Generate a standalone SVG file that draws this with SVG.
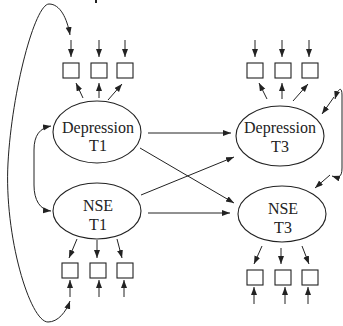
<svg xmlns="http://www.w3.org/2000/svg" width="343" height="326" viewBox="0 0 343 326">
<style>
.e{fill:#fff;stroke:#222;stroke-width:1.1}
.b{fill:#fff;stroke:#222;stroke-width:1.1}
.t{font-family:'Liberation Serif','DejaVu Serif',serif;font-size:16px;fill:#222;text-anchor:middle}
.c{fill:none;stroke:#222;stroke-width:1}
.a{marker-end:url(#ah)}
.d{marker-start:url(#ah);marker-end:url(#ah)}
</style>
<defs>
<marker id="ah" markerUnits="userSpaceOnUse" markerWidth="9" markerHeight="7" refX="8" refY="3" orient="auto-start-reverse">
<path d="M0,0 L8,3 L0,6 z" fill="#222"/>
</marker>
</defs>
<rect x="95" y="0" width="2" height="3" fill="#222"/>
<g id="connectors">
<line class="c a" x1="71" y1="40" x2="71" y2="57"/>
<line class="c a" x1="99" y1="40" x2="99" y2="57"/>
<line class="c a" x1="125" y1="40" x2="125" y2="57"/>
<line class="c a" x1="83" y1="98" x2="76" y2="83"/>
<line class="c a" x1="99" y1="98" x2="99" y2="83"/>
<line class="c a" x1="108" y1="100" x2="122" y2="84"/>
<line class="c a" x1="255" y1="40" x2="255" y2="57"/>
<line class="c a" x1="282" y1="40" x2="282" y2="57"/>
<line class="c a" x1="309" y1="40" x2="309" y2="57"/>
<line class="c a" x1="267" y1="99" x2="259" y2="83"/>
<line class="c a" x1="282" y1="99" x2="282" y2="83"/>
<line class="c a" x1="293" y1="101" x2="308" y2="84"/>
<line class="c a" x1="77" y1="239" x2="69" y2="258"/>
<line class="c a" x1="97" y1="240" x2="97" y2="258"/>
<line class="c a" x1="117" y1="239" x2="122" y2="258"/>
<line class="c a" x1="70" y1="297" x2="70" y2="280"/>
<line class="c a" x1="99" y1="297" x2="99" y2="280"/>
<line class="c a" x1="124" y1="297" x2="124" y2="280"/>
<line class="c a" x1="262" y1="246" x2="254" y2="264"/>
<line class="c a" x1="281" y1="248" x2="281" y2="264"/>
<line class="c a" x1="302" y1="246" x2="309" y2="264"/>
<line class="c a" x1="254" y1="304" x2="254" y2="287"/>
<line class="c a" x1="285" y1="304" x2="285" y2="287"/>
<line class="c a" x1="308" y1="304" x2="308" y2="287"/>
<line class="c a" x1="148" y1="133" x2="231" y2="133"/>
<line class="c a" x1="140" y1="148" x2="234" y2="203"/>
<line class="c a" x1="141" y1="195" x2="234" y2="157"/>
<line class="c a" x1="148" y1="213" x2="230" y2="213"/>
<path class="c d" d="M51,126 C40,128 34,135 34,150 L34,185 C34,200 40,210 51,211"/>
<path class="c d" d="M70,35 C67,18 60,4 49,4 C35,4 12,90 8,163 C4,236 30,322 48,322 C58,322 66,312 70,301"/>
<line class="c a" x1="334" y1="97" x2="322" y2="114"/>
<path class="c d" d="M335,99 C338,88 342,86 342,95 L342,168 C342,178 338,178 332,176"/>
<line class="c a" x1="330" y1="175" x2="315" y2="188"/>
</g>
<g id="dep-t1">
<rect class="b" x="63" y="63" width="16" height="15"/>
<rect class="b" x="91" y="63" width="16" height="15"/>
<rect class="b" x="117" y="63" width="16" height="15"/>
<ellipse class="e" cx="97" cy="132" rx="44" ry="31"/>
<text class="t" x="98" y="133">Depression</text>
<text class="t" x="98" y="151">T1</text>
</g>
<g id="dep-t3">
<rect class="b" x="247" y="63" width="16" height="15"/>
<rect class="b" x="275" y="63" width="16" height="15"/>
<rect class="b" x="302" y="63" width="16" height="15"/>
<ellipse class="e" cx="280" cy="136" rx="44" ry="30"/>
<text class="t" x="280" y="133">Depression</text>
<text class="t" x="280" y="152">T3</text>
</g>
<g id="nse-t1">
<rect class="b" x="62" y="263" width="16" height="15"/>
<rect class="b" x="90" y="263" width="16" height="15"/>
<rect class="b" x="117" y="263" width="16" height="15"/>
<ellipse class="e" cx="97" cy="211" rx="44" ry="28"/>
<text class="t" x="98" y="211">NSE</text>
<text class="t" x="98" y="230">T1</text>
</g>
<g id="nse-t3">
<rect class="b" x="247" y="270" width="16" height="15"/>
<rect class="b" x="275" y="270" width="16" height="15"/>
<rect class="b" x="302" y="270" width="16" height="15"/>
<ellipse class="e" cx="282" cy="214" rx="44" ry="28"/>
<text class="t" x="283" y="214">NSE</text>
<text class="t" x="283" y="233">T3</text>
</g>
</svg>
